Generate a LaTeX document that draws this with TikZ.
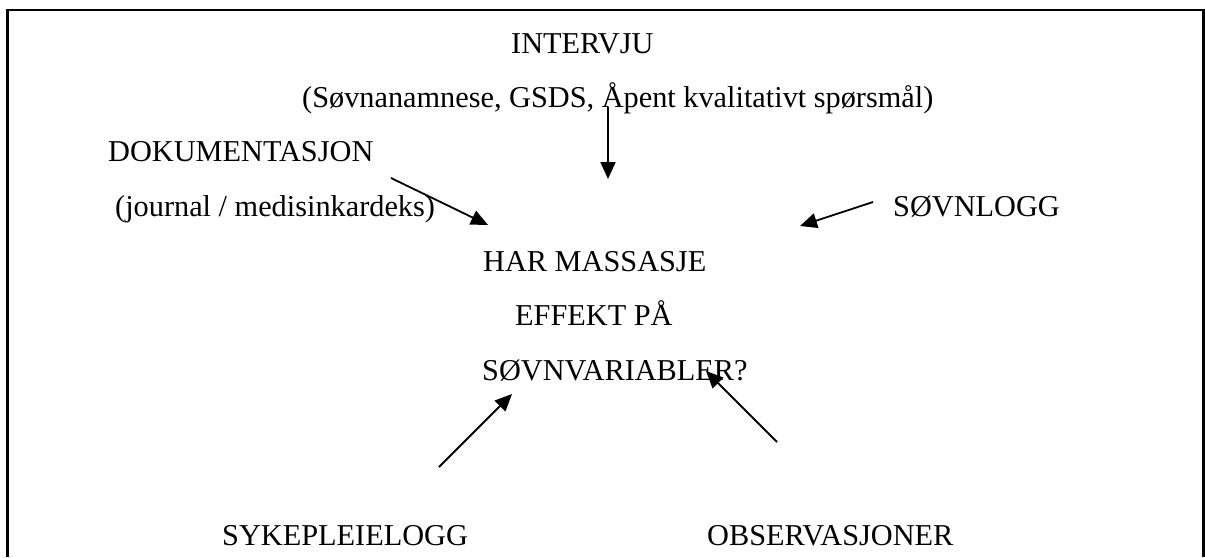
\documentclass[tikz,border=0pt]{standalone}
\usepackage{fontspec}
\setmainfont{Liberation Serif}
\usetikzlibrary{arrows.meta}
\begin{document}
\begin{tikzpicture}[x=1pt,y=-1pt,
  lbl/.style={anchor=base west,inner sep=0pt,font=\fontsize{30.3}{36}\selectfont},
  conn/.style={line width=1.8pt,-{Triangle[length=17pt,width=15pt]}},
  frame/.style={line width=2.2pt}]
\useasboundingbox (0,0) rectangle (1205,557);
% open frame: top, left and right edges
\draw[frame] (7.5,557) -- (7.5,10) -- (1203.5,10) -- (1203.5,557);

% texts
\node[lbl] (intervju) at (511,53) {INTERVJU};
\node[lbl] (intdet) at (302,107) {(Søvnanamnese, GSDS, Åpent kvalitativt spørsmål)};
\node[lbl] (dok) at (108,161) {DOKUMENTASJON};
\node[lbl] (dokdet) at (115,216) {(journal / medisinkardeks)};
\node[lbl] (logg) at (893,216) {SØVNLOGG};
\node[lbl] (q1) at (483,271) {HAR MASSASJE};
\node[lbl] (q2) at (515,325) {EFFEKT PÅ};
\node[lbl] (q3) at (482,380) {SØVNVARIABLER?};
\node[lbl] (syk) at (222,545) {SYKEPLEIELOGG};
\node[lbl] (obs) at (707,545) {OBSERVASJONER};

% connector ends
\coordinate (a1s) at (608,107);  \coordinate (a1e) at (608,179);
\coordinate (a2s) at (391,178);  \coordinate (a2e) at (488,225);
\coordinate (a3s) at (873,202);  \coordinate (a3e) at (800,226);
\coordinate (a4s) at (439,467);  \coordinate (a4e) at (512,394);
\coordinate (a5s) at (777,442);  \coordinate (a5e) at (706,371);

\draw[conn] (a1s) -- (a1e);
\draw[conn] (a2s) -- (a2e);
\draw[conn] (a3s) -- (a3e);
\draw[conn] (a4s) -- (a4e);
\draw[conn] (a5s) -- (a5e);
\end{tikzpicture}
\end{document}
